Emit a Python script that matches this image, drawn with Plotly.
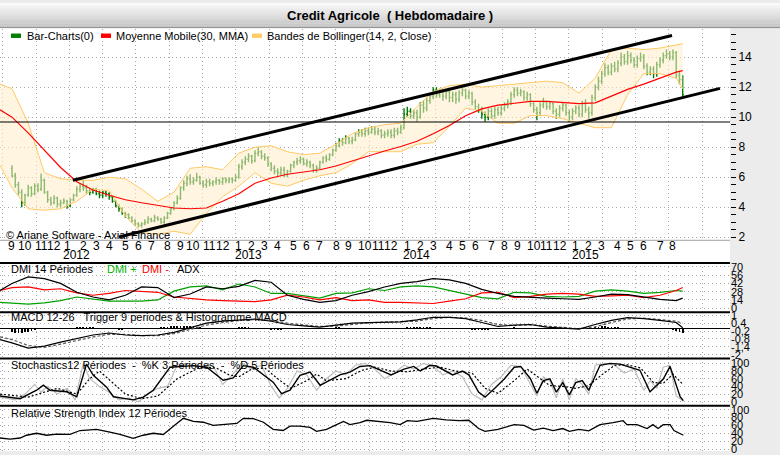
import plotly.graph_objects as go
import pandas as pd

W, H, PW = 780, 455, 730

# ---------------- weekly bars (Credit Agricole, weekly) ----------------
bar_start = "2011-09-05"
n_bars = 208
bar_dates = pd.date_range(bar_start, periods=n_bars, freq="7D")
bar_weeks = list(range(n_bars))

opens = [6.6, 6.1, 5.5, 5.0, 4.3, 4.8, 5.3, 4.9, 5.4, 5.2,
         5.8, 5.0, 4.5, 4.3, 4.6, 4.2, 4.3, 4.4, 4.1, 4.5,
         4.8, 5.2, 5.4, 5.3, 5.1, 5.0, 5.2, 4.9, 4.8, 5.0,
         4.9, 4.7, 4.4, 4.1, 3.9, 3.6, 3.5, 3.3, 3.1, 2.9,
         2.8, 2.9, 3.0, 3.2, 3.1, 3.3, 3.2, 3.0, 3.3, 3.6,
         3.9, 4.3, 4.6, 5.3, 5.6, 5.9, 5.7, 5.8, 6.0, 5.6,
         5.5, 5.7, 5.6, 5.7, 5.8, 5.7, 5.9, 5.8, 5.9, 5.8,
         6.0, 6.7, 7.0, 7.2, 7.4, 7.1, 7.6, 7.7, 7.4, 7.3,
         6.9, 6.6, 6.4, 6.3, 6.5, 6.2, 6.4, 6.8, 7.0, 7.1,
         7.2, 6.9, 7.0, 6.8, 6.5, 6.6, 7.0, 7.3, 7.2, 7.5,
         7.8, 8.1, 8.4, 8.3, 8.6, 8.4, 8.5, 8.9, 9.0, 8.9,
         9.1, 9.0, 9.2, 9.0, 9.1, 8.8, 8.9, 9.0, 8.8, 9.1,
         9.0, 9.3, 10.2, 10.4, 10.1, 10.3, 10.0, 10.8, 10.6, 11.1,
         11.4, 11.8, 11.5, 11.7, 11.4, 11.7, 11.3, 11.5, 11.2, 11.6,
         11.8, 11.4, 11.6, 11.0, 10.7, 10.5, 10.2, 10.0, 10.4, 10.1,
         10.5, 10.3, 10.6, 10.8, 11.0, 11.5, 11.8, 11.6, 11.7, 11.3,
         11.5, 10.9, 10.5, 10.3, 10.8, 11.0, 10.7, 10.9, 10.4, 10.2,
         10.6, 10.8, 10.3, 10.0, 10.4, 10.6, 10.2, 10.9, 10.5, 10.3,
         11.3, 12.0, 12.4, 12.9, 13.3, 13.0, 13.4, 13.2, 13.6, 14.0,
         13.7, 14.1, 13.8, 13.5, 13.9, 14.0, 13.4, 13.0, 13.2, 12.9,
         13.5, 13.8, 14.1, 14.2, 14.0, 14.3, 12.8, 12.5]
highs = [6.8, 6.3, 5.7, 5.2, 4.9, 5.5, 5.4, 5.6, 5.6, 6.25,
         5.9, 5.1, 4.7, 4.8, 4.7, 4.5, 4.6, 4.5, 4.6, 4.9,
         5.4, 5.6, 5.8, 5.5, 5.3, 5.3, 5.3, 5.1, 5.1, 5.1,
         5.0, 4.8, 4.5, 4.2, 4.0, 3.7, 3.6, 3.4, 3.2, 3.0,
         3.0, 3.2, 3.4, 3.3, 3.5, 3.4, 3.3, 3.4, 3.7, 4.0,
         4.4, 4.8, 5.4, 5.8, 6.1, 6.2, 6.0, 6.3, 6.1, 5.8,
         5.9, 5.9, 5.8, 6.0, 5.9, 6.0, 6.0, 6.0, 6.0, 6.2,
         6.9, 7.2, 7.4, 7.6, 7.5, 7.8, 8.0, 7.8, 7.6, 7.4,
         7.0, 6.8, 6.6, 6.7, 6.7, 6.5, 6.9, 7.1, 7.3, 7.4,
         7.3, 7.2, 7.1, 6.9, 6.8, 7.1, 7.4, 7.5, 7.6, 7.9,
         8.3, 8.6, 8.6, 8.8, 8.7, 8.7, 9.0, 9.2, 9.2, 9.3,
         9.3, 9.4, 9.4, 9.3, 9.2, 9.1, 9.2, 9.2, 9.3, 9.3,
         9.5, 10.6, 10.7, 10.6, 10.5, 10.5, 11.0, 11.1, 11.3, 11.6,
         12.0, 12.0, 11.9, 11.9, 11.9, 11.9, 11.7, 11.7, 11.8, 12.0,
         11.9, 11.8, 11.7, 11.2, 10.9, 10.7, 10.4, 10.6, 10.6, 10.7,
         10.7, 10.8, 11.0, 11.2, 11.7, 12.0, 12.0, 11.9, 11.8, 11.7,
         11.6, 11.0, 10.7, 11.0, 11.3, 11.1, 11.1, 11.0, 10.6, 10.8,
         11.0, 10.9, 10.5, 10.6, 10.8, 10.8, 11.1, 11.2, 10.7, 11.5,
         12.2, 12.7, 13.1, 13.6, 13.5, 13.6, 13.7, 13.8, 14.3, 14.2,
         14.4, 14.3, 14.0, 14.1, 14.3, 14.2, 13.6, 13.4, 13.4, 13.7,
         14.0, 14.3, 14.5, 14.4, 14.5, 14.4, 13.1, 12.8]
lows = [6.0, 5.3, 4.8, 4.0, 4.1, 4.7, 4.7, 4.8, 5.0, 5.1,
        4.9, 4.3, 4.1, 4.2, 4.0, 4.0, 4.2, 3.9, 4.0, 4.4,
        4.7, 5.0, 5.1, 4.9, 4.8, 4.9, 4.8, 4.6, 4.6, 4.7,
        4.5, 4.3, 4.0, 3.7, 3.5, 3.3, 3.2, 3.0, 2.8, 2.65,
        2.65, 2.8, 2.9, 3.0, 3.0, 3.1, 2.9, 2.9, 3.2, 3.5,
        3.8, 4.2, 4.5, 5.1, 5.4, 5.5, 5.5, 5.7, 5.5, 5.3,
        5.3, 5.4, 5.4, 5.5, 5.5, 5.5, 5.6, 5.6, 5.6, 5.7,
        5.9, 6.5, 6.8, 7.0, 6.9, 7.0, 7.4, 7.2, 7.1, 6.7,
        6.4, 6.2, 6.0, 6.1, 6.0, 6.0, 6.3, 6.6, 6.8, 6.9,
        6.8, 6.7, 6.6, 6.3, 6.3, 6.5, 6.9, 7.0, 7.1, 7.4,
        7.7, 8.0, 8.1, 8.2, 8.2, 8.2, 8.4, 8.7, 8.7, 8.7,
        8.8, 8.9, 8.8, 8.8, 8.6, 8.6, 8.7, 8.6, 8.6, 8.8,
        8.9, 9.2, 10.0, 9.9, 9.9, 9.7, 9.9, 10.3, 10.4, 10.9,
        11.2, 11.3, 11.3, 11.1, 11.2, 11.0, 11.0, 10.9, 11.0, 11.4,
        11.2, 11.2, 10.8, 10.5, 10.3, 9.9, 9.7, 9.8, 9.9, 9.9,
        10.1, 10.1, 10.4, 10.6, 10.8, 11.3, 11.4, 11.4, 11.1, 11.1,
        10.7, 10.3, 9.8, 10.1, 10.6, 10.5, 10.5, 10.2, 9.9, 10.0,
        10.4, 10.1, 9.7, 9.8, 10.2, 10.0, 10.0, 10.3, 9.9, 10.1,
        11.1, 11.8, 12.2, 12.7, 12.8, 12.8, 13.0, 13.0, 13.4, 13.5,
        13.5, 13.6, 13.3, 13.3, 13.7, 13.2, 12.8, 12.8, 12.6, 12.7,
        13.3, 13.6, 13.9, 13.8, 13.8, 12.6, 12.2, 11.4]
closes = [6.1, 5.5, 5.0, 4.3, 4.8, 5.3, 4.9, 5.4, 5.2, 5.8,
          5.0, 4.5, 4.3, 4.6, 4.2, 4.3, 4.4, 4.1, 4.5, 4.8,
          5.2, 5.4, 5.3, 5.1, 5.0, 5.2, 4.9, 4.8, 5.0, 4.9,
          4.7, 4.4, 4.1, 3.9, 3.6, 3.5, 3.3, 3.1, 2.9, 2.8,
          2.9, 3.0, 3.2, 3.1, 3.3, 3.2, 3.0, 3.3, 3.6, 3.9,
          4.3, 4.6, 5.3, 5.6, 5.9, 5.7, 5.8, 6.0, 5.6, 5.5,
          5.7, 5.6, 5.7, 5.8, 5.7, 5.9, 5.8, 5.9, 5.8, 6.0,
          6.7, 7.0, 7.2, 7.4, 7.1, 7.6, 7.7, 7.4, 7.3, 6.9,
          6.6, 6.4, 6.3, 6.5, 6.2, 6.4, 6.8, 7.0, 7.1, 7.2,
          6.9, 7.0, 6.8, 6.5, 6.6, 7.0, 7.3, 7.2, 7.5, 7.8,
          8.1, 8.4, 8.3, 8.6, 8.4, 8.5, 8.9, 9.0, 8.9, 9.1,
          9.0, 9.2, 9.0, 9.1, 8.8, 8.9, 9.0, 8.8, 9.1, 9.0,
          9.3, 10.2, 10.4, 10.1, 10.3, 10.0, 10.8, 10.6, 11.1, 11.4,
          11.8, 11.5, 11.7, 11.4, 11.7, 11.3, 11.5, 11.2, 11.6, 11.8,
          11.4, 11.6, 11.0, 10.7, 10.5, 10.2, 10.0, 10.4, 10.1, 10.5,
          10.3, 10.6, 10.8, 11.0, 11.5, 11.8, 11.6, 11.7, 11.3, 11.5,
          10.9, 10.5, 10.3, 10.8, 11.0, 10.7, 10.9, 10.4, 10.2, 10.6,
          10.8, 10.3, 10.0, 10.4, 10.6, 10.2, 10.9, 10.5, 10.3, 11.3,
          12.0, 12.4, 12.9, 13.3, 13.0, 13.4, 13.2, 13.6, 14.0, 13.7,
          14.1, 13.8, 13.5, 13.9, 14.0, 13.4, 13.0, 13.2, 12.9, 13.5,
          13.8, 14.1, 14.2, 14.0, 14.3, 12.8, 12.5, 11.5]

# ---------------- indicators sampled every 5 weeks ----------------
ind_weeks = [-3.7, 0, 5, 10, 15, 20, 25, 30, 35, 40, 45, 50, 55, 60, 65, 70, 75, 80, 85, 90,
             95, 100, 105, 110, 115, 120, 125, 130, 135, 140, 145, 150, 155, 160, 165, 170,
             175, 180, 185, 190, 195, 200, 205, 207]
ma30 = [10.5, 10.0, 8.95, 7.8, 6.65, 5.7, 5.15, 4.8, 4.5, 4.3, 4.1, 3.95, 3.9, 3.95, 4.4, 4.9,
        5.6, 5.95, 6.2, 6.35, 6.5, 6.75, 7.1, 7.45, 7.75, 8.05, 8.4, 8.9, 9.45, 10.1, 10.55,
        10.8, 10.9, 11.05, 11.05, 11.0, 10.9, 10.95, 11.4, 11.85, 12.2, 12.6, 13.0, 13.1]
bb_upper = [12.2, 11.9, 9.6, 6.3, 5.9, 5.8, 5.8, 6.0, 5.9, 5.2, 4.4, 5.0, 6.6, 6.7, 6.5, 7.6,
            8.0, 8.1, 7.7, 7.5, 7.6, 8.2, 8.9, 9.3, 9.5, 9.6, 10.7, 11.7, 12.1, 12.2, 12.0,
            12.1, 12.2, 12.35, 12.4, 12.3, 11.6, 12.6, 14.5, 14.6, 14.5, 14.6, 14.8, 14.9]
bb_lower = [6.8, 5.3, 3.9, 3.8, 3.9, 4.4, 5.2, 5.1, 3.4, 2.3, 2.2, 2.4, 2.2, 3.6, 4.7, 5.4,
            6.3, 5.6, 5.4, 5.8, 6.1, 6.3, 6.9, 7.7, 7.7, 7.7, 8.2, 8.3, 9.4, 10.6, 10.4,
            9.6, 9.6, 10.1, 10.1, 9.9, 9.6, 9.3, 9.3, 11.5, 12.9, 12.9, 12.6, 11.9]
adx = [30, 42, 53, 50, 42, 27, 19, 14, 22, 36, 35, 18, 24, 36, 33, 37, 47, 44, 22, 15,
       10, 13, 22, 28, 36, 42, 45, 50, 48, 42, 32, 25, 20, 18, 17, 16, 15, 19, 24, 23,
       19, 15, 13, 17]
dmi_plus = [10, 9, 7, 9, 13, 19, 16, 12, 12, 12, 14, 29, 36, 38, 31, 41, 36, 25, 25, 21,
            17, 25, 26, 33, 30, 36, 38, 36, 30, 25, 18, 16, 27, 26, 20, 19, 20, 29, 31, 29,
            25, 27, 30, 29]
dmi_minus = [30, 35, 36, 31, 33, 26, 22, 25, 30, 29, 27, 19, 16, 14, 13, 12, 11, 14, 22, 19,
             14, 18, 13, 14, 10, 10, 9, 8, 12, 16, 26, 27, 18, 20, 24, 25, 24, 20, 21, 22,
             18, 22, 30, 35]
macd = [-0.85, -1.1, -1.5, -1.35, -1.05, -0.75, -0.5, -0.35, -0.5, -0.55, -0.5, -0.3, 0.05,
        0.4, 0.55, 0.65, 0.72, 0.55, 0.3, 0.2, 0.1, 0.25, 0.4, 0.45, 0.5, 0.5, 0.65, 0.85,
        0.85, 0.75, 0.45, 0.15, 0.25, 0.3, 0.1, 0.0, -0.05, 0.3, 0.62, 0.82, 0.75, 0.62,
        0.45, 0.05]
trigger = [-0.65, -0.85, -1.3, -1.45, -1.2, -0.9, -0.65, -0.45, -0.45, -0.55, -0.55, -0.4,
           -0.1, 0.25, 0.45, 0.6, 0.68, 0.62, 0.4, 0.25, 0.15, 0.18, 0.32, 0.42, 0.48, 0.5,
           0.55, 0.75, 0.85, 0.8, 0.6, 0.3, 0.22, 0.28, 0.18, 0.05, -0.02, 0.12, 0.45, 0.72,
           0.78, 0.68, 0.55, 0.4]
macd_hist = [-0.3, -0.32, -0.35, -0.35, -0.3, -0.25, -0.2, -0.15, -0.05, 0.0,
             -0.02, -0.05, -0.08, -0.06, -0.03, 0.0, 0.02, 0.03, 0.05, 0.06,
             0.08, 0.1, 0.12, 0.12, 0.1, 0.08, 0.06, 0.04, 0.0, -0.02,
             -0.04, -0.06, -0.08, -0.1, -0.1, -0.08, -0.06, -0.04, -0.02, 0.0,
             0.02, 0.03, 0.05, 0.05, 0.06, 0.07, 0.08, 0.1, 0.12, 0.15,
             0.18, 0.2, 0.22, 0.22, 0.2, 0.18, 0.15, 0.12, 0.08, 0.05,
             0.03, 0.02, 0.0, -0.02, -0.02, 0.0, 0.02, 0.03, 0.05, 0.06,
             0.08, 0.1, 0.1, 0.08, 0.06, 0.04, 0.02, -0.02, -0.05, -0.08,
             -0.1, -0.12, -0.12, -0.1, -0.08, -0.06, -0.03, 0.0, 0.03, 0.05,
             0.04, 0.02, 0.0, -0.02, -0.03, -0.02, 0.0, 0.02, 0.04, 0.06,
             0.08, 0.08, 0.07, 0.06, 0.05, 0.04, 0.04, 0.03, 0.02, 0.02,
             0.01, 0.0, -0.01, -0.02, -0.03, -0.04, -0.04, -0.03, -0.02, -0.01,
             0.02, 0.06, 0.1, 0.12, 0.12, 0.1, 0.1, 0.1, 0.1, 0.08,
             0.06, 0.04, 0.02, 0.0, -0.02, -0.03, -0.04, -0.05, -0.05, -0.05,
             -0.06, -0.08, -0.1, -0.12, -0.14, -0.14, -0.12, -0.1, -0.08, -0.05,
             -0.03, 0.0, 0.03, 0.05, 0.07, 0.08, 0.07, 0.05, 0.02, 0.0,
             -0.03, -0.06, -0.08, -0.08, -0.06, -0.04, -0.04, -0.05, -0.06, -0.05,
             -0.04, -0.04, -0.05, -0.04, -0.02, -0.02, 0.0, 0.0, 0.02, 0.06,
             0.1, 0.14, 0.16, 0.16, 0.14, 0.12, 0.1, 0.08, 0.06, 0.04,
             0.02, 0.0, -0.02, -0.03, -0.05, -0.06, -0.07, -0.08, -0.06, -0.05,
             -0.05, -0.06, -0.06, -0.08, -0.1, -0.2, -0.3, -0.35]

# stochastics (turning points)
stk_weeks = [-3.7, 2.5, 7.6, 9.7, 11.7, 16.9, 20, 23, 25.1, 29.2, 31.3, 37.4, 40.5, 43.6, 48.8,
             56, 60.1, 65.2, 68.3, 71.4, 74.5, 80.6, 83.2, 85.8, 88.9, 92, 95.1, 101.2, 104.3,
             107.4, 110.5, 113.6, 117, 121, 124, 126, 129, 131, 134, 136, 139, 141, 144, 146,
             149, 152, 155, 157, 160, 162, 164, 166, 168, 170, 172, 174, 176, 178, 181.5,
             184.6, 187.7, 190.7, 193.8, 196.9, 199, 201, 203.1, 204.6, 206.2, 207.2]
stk_vals = [15, 8, 30, 43, 30, 26, 13, 98, 69, 38, 13, 5, 12, 30, 90, 94, 90, 56, 62, 94,
            90, 51, 21, 30, 69, 77, 43, 70, 77, 92, 94, 82, 70, 85, 92, 80, 95, 93, 80, 70,
            80, 70, 25, 12, 35, 60, 90, 92, 60, 22, 55, 60, 25, 50, 18, 50, 55, 30, 95, 100,
            98, 90, 82, 26, 44, 59, 92, 51, 13, 3]
std_weeks = [-3.7, 5, 10, 14, 20, 24, 27, 31, 35, 40, 45, 51, 58, 63, 67, 70, 74, 78, 82, 86,
             91, 94, 97, 103, 108, 112, 117, 122, 127, 132, 137, 142, 146, 150, 155, 159, 163,
             166, 170, 174, 178, 182, 186, 190, 194, 198, 201, 204, 207.2]
std_vals = [20, 12, 25, 35, 20, 60, 80, 50, 20, 8, 15, 60, 90, 88, 70, 65, 85, 88, 60, 35,
            55, 72, 55, 60, 82, 90, 80, 78, 85, 90, 80, 75, 35, 22, 55, 85, 60, 42, 40, 35,
            42, 70, 95, 96, 88, 50, 48, 72, 44]
str_weeks = [-3.7, 1, 4, 7, 9, 11, 14, 17, 19.5, 22, 24, 27, 30, 33, 36, 39, 42, 45, 48, 51,
             55, 58, 62, 65, 68, 71, 74, 77, 80, 82.5, 85, 88, 91, 94, 97, 100, 103, 106, 109,
             112, 115, 118, 121, 124, 127, 130, 133, 136, 139, 142, 145, 148, 151, 154, 157,
             160, 162, 164, 166, 168, 170, 172, 174, 176, 178, 180, 183, 186, 189, 192, 195,
             197, 199, 201, 203, 205, 207.2]
str_vals = [12, 5, 20, 45, 25, 40, 20, 35, 5, 100, 60, 40, 25, 5, 10, 0, 20, 35, 40, 95,
            100, 85, 95, 45, 70, 100, 85, 95, 40, 10, 35, 80, 70, 30, 60, 80, 70, 95, 100,
            85, 60, 75, 95, 85, 100, 92, 70, 80, 65, 20, 5, 45, 65, 95, 92, 45, 15, 65, 55,
            10, 60, 5, 60, 45, 20, 95, 100, 95, 75, 85, 30, 55, 35, 90, 95, 15, 2]

rsi_weeks = [-3.7, -0.6, 2.5, 4.5, 7.6, 10.7, 13.8, 17.9, 21, 26.1, 30.2, 33.3, 37.4, 40.5,
             43.6, 46.7, 49.8, 52.9, 56, 59, 62.1, 66.3, 69.4, 71.4, 74.5, 77.6, 80.6, 83.7,
             85.8, 88.9, 92, 94, 97.1, 99.2, 102.3, 104.3, 107.4, 109.5, 113.6, 116.7, 119.8,
             122, 125, 130, 134, 138, 141, 144, 146, 150, 155, 158, 161, 164, 167, 170, 172,
             175, 178, 181.5, 185.5, 188.6, 189.8, 192.9, 196, 197.8, 199.4, 201, 203.1,
             204.3, 207.2]
rsi_vals = [28, 25, 28, 35, 40, 35, 38, 37, 47, 50, 43, 37, 27, 35, 40, 37, 58, 78, 70, 68,
            60, 63, 65, 78, 77, 68, 50, 47, 58, 58, 55, 45, 50, 58, 70, 62, 67, 73, 70, 67,
            62, 72, 70, 78, 74, 72, 73, 52, 45, 50, 62, 60, 48, 53, 47, 52, 45, 50, 46, 62,
            67, 72, 62, 62, 52, 62, 52, 62, 62, 47, 35]

# drawn trend lines (week, price)
upper_trend_w = [18.8, 203.7]
upper_trend_v = [5.80, 15.44]
lower_trend_w = [33.0, 218.5]
lower_trend_v = [2.02, 11.92]
support_level = 9.68

X_RANGE = [-3.7, 221.6]


def PX(p):
    return p / PW


def PY(p):
    return 1 - p / H


fig = go.Figure()
skip = dict(hoverinfo="skip", showlegend=False)

# main panel
fig.add_trace(go.Scatter(x=ind_weeks, y=bb_lower, mode="lines",
                         line=dict(color="#ffc864", width=1), xaxis="x", yaxis="y", **skip))
fig.add_trace(go.Scatter(x=ind_weeks, y=bb_upper, mode="lines", fill="tonexty",
                         fillcolor="rgba(255,236,200,0.55)",
                         line=dict(color="#ffc864", width=1), xaxis="x", yaxis="y", **skip))
fig.add_trace(go.Ohlc(x=bar_weeks, open=opens, high=highs, low=lows, close=closes,
                      increasing=dict(line=dict(color="#007a00", width=1.4)),
                      decreasing=dict(line=dict(color="#007a00", width=1.4)),
                      tickwidth=0.35, xaxis="x", yaxis="y", hoverinfo="skip", showlegend=False))
fig.add_trace(go.Scatter(x=ind_weeks, y=ma30, mode="lines",
                         line=dict(color="#ff0000", width=1.2), xaxis="x", yaxis="y", **skip))
fig.add_trace(go.Scatter(x=X_RANGE, y=[support_level, support_level], mode="lines",
                         line=dict(color="black", width=1.2), xaxis="x", yaxis="y", **skip))
fig.add_trace(go.Scatter(x=upper_trend_w, y=upper_trend_v, mode="lines",
                         line=dict(color="black", width=3), xaxis="x", yaxis="y", **skip))
fig.add_trace(go.Scatter(x=lower_trend_w, y=lower_trend_v, mode="lines",
                         line=dict(color="black", width=3), xaxis="x", yaxis="y", **skip))

# DMI
fig.add_trace(go.Scatter(x=ind_weeks, y=dmi_plus, mode="lines",
                         line=dict(color="#00a000", width=1.2), xaxis="x2", yaxis="y2", **skip))
fig.add_trace(go.Scatter(x=ind_weeks, y=dmi_minus, mode="lines",
                         line=dict(color="#ff0000", width=1.2), xaxis="x2", yaxis="y2", **skip))
fig.add_trace(go.Scatter(x=ind_weeks, y=adx, mode="lines",
                         line=dict(color="black", width=1.2), xaxis="x2", yaxis="y2", **skip))

# MACD
fig.add_trace(go.Bar(x=bar_weeks, y=macd_hist, marker=dict(color="black", line=dict(width=0)),
                     width=0.55, xaxis="x3", yaxis="y3", **skip))
fig.add_trace(go.Scatter(x=ind_weeks, y=trigger, mode="lines",
                         line=dict(color="#555555", width=1.2, dash="3px,2px"),
                         xaxis="x3", yaxis="y3", **skip))
fig.add_trace(go.Scatter(x=ind_weeks, y=macd, mode="lines",
                         line=dict(color="black", width=1.2), xaxis="x3", yaxis="y3", **skip))

# Stochastics
fig.add_trace(go.Scatter(x=str_weeks, y=str_vals, mode="lines",
                         line=dict(color="#bdbdbd", width=1.2), xaxis="x4", yaxis="y4", **skip))
fig.add_trace(go.Scatter(x=std_weeks, y=std_vals, mode="lines",
                         line=dict(color="black", width=1.2, dash="2px,2px"),
                         xaxis="x4", yaxis="y4", **skip))
fig.add_trace(go.Scatter(x=stk_weeks, y=stk_vals, mode="lines",
                         line=dict(color="black", width=1.4), xaxis="x4", yaxis="y4", **skip))

# RSI
fig.add_trace(go.Scatter(x=rsi_weeks, y=rsi_vals, mode="lines",
                         line=dict(color="black", width=1.3), xaxis="x5", yaxis="y5", **skip))

GRID = "#a8a8a8"
GDASH = "1px,3px"


def xax(anchor):
    return dict(range=X_RANGE, anchor=anchor, domain=[0, 1], showgrid=True, gridcolor=GRID,
                griddash=GDASH, gridwidth=1, tickmode="linear", tick0=-2.87, dtick=10.28,
                showticklabels=False, ticks="", zeroline=False, showline=False, fixedrange=True)


def yax(anchor, dom, rng, **kw):
    d = dict(anchor=anchor, domain=dom, range=rng, side="right", showgrid=True, gridcolor=GRID,
             griddash=GDASH, gridwidth=1, zeroline=False, showline=False, fixedrange=True,
             tickfont=dict(size=11, color="black"), ticks="")
    d.update(kw)
    return d


layout = dict(
    width=W, height=H, autosize=False,
    margin=dict(l=0, r=W - PW, t=0, b=0),
    paper_bgcolor="#ececec", plot_bgcolor="white",
    font=dict(family="Liberation Sans, Arial, sans-serif", color="black"),
    showlegend=False, bargap=0,
    xaxis=dict(xax("y"), rangeslider=dict(visible=False)),
    xaxis2=xax("y2"), xaxis3=xax("y3"), xaxis4=xax("y4"), xaxis5=xax("y5"),
    yaxis=yax("x", [PY(241), PY(26)], [1.80, 15.9], tickmode="linear", tick0=0, dtick=2,
              ticks="outside", ticklen=5, tickcolor="black", tickwidth=1,
              tickfont=dict(size=12, color="black"),
              minor=dict(dtick=0.5, tick0=0, ticks="outside", ticklen=5, tickcolor="black",
                         tickwidth=1, showgrid=False)),
    yaxis2=yax("x2", [PY(314), PY(264)], [-6.7, 76.7], tickmode="linear", tick0=0, dtick=14),
    yaxis3=yax("x3", [PY(361), PY(314)], [-2.29, 1.24], tickmode="array",
               tickvals=[1, 0.4, -0.2, -0.8, -1.4, -2],
               ticktext=["1", "0,4", "-0,2", "-0,8", "-1,4", "-2"],
               zeroline=True, zerolinecolor="black", zerolinewidth=1.5),
    yaxis4=yax("x4", [PY(409), PY(361)], [-10.3, 112.8], tickmode="linear", tick0=0, dtick=20),
    yaxis5=yax("x5", [0, PY(409)], [-5, 110], tickmode="linear", tick0=0, dtick=20),
)

shapes = []
# white chart background (below everything)
shapes.append(dict(type="rect", xref="paper", yref="paper", x0=0, x1=1, y0=0, y1=PY(25),
                   fillcolor="white", line=dict(width=0), layer="below"))
# title bar gradient
n_strips = 13
for k in range(n_strips):
    g = int(250 - (250 - 196) * k / (n_strips - 1))
    shapes.append(dict(type="rect", xref="paper", yref="paper", x0=0, x1=W / PW,
                       y0=PY(25 * (k + 1) / n_strips), y1=PY(25 * k / n_strips),
                       fillcolor=f"rgb({g},{g},{g})", line=dict(width=0), layer="below"))
shapes.append(dict(type="line", xref="paper", yref="paper", x0=0, x1=W / PW, y0=PY(25), y1=PY(25),
                   line=dict(color="#8c8c8c", width=1)))
# legend colour boxes
for x0, x1, col in [(11, 21, "#008000"), (101, 111, "#ff0000"), (252, 262, "#ffcc66")]:
    shapes.append(dict(type="rect", xref="paper", yref="paper", x0=PX(x0), x1=PX(x1),
                       y0=PY(35.5), y1=PY(31), fillcolor=col, line=dict(width=0)))
# panel separators
shapes.append(dict(type="line", xref="paper", yref="paper", x0=0, x1=1, y0=PY(241), y1=PY(241),
                   line=dict(color="#a0a0a0", width=1)))
for yy in [264, 314, 361, 409]:
    shapes.append(dict(type="line", xref="paper", yref="paper", x0=0, x1=1, y0=PY(yy), y1=PY(yy),
                       line=dict(color="black", width=2)))
layout["shapes"] = shapes

ann = []


def text(x, y, t, size=11, color="black", anchor="left", **kw):
    d = dict(xref="paper", yref="paper", x=PX(x), y=PY(y), text=t, showarrow=False,
             xanchor=anchor, yanchor="middle", font=dict(size=size, color=color))
    d.update(kw)
    ann.append(d)


text(390, 13, "<b>Credit Agricole &nbsp;( Hebdomadaire )</b>", size=13, anchor="center")
text(25, 33.5, "Bar-Charts(0)")
text(114, 33.5, "Moyenne Mobile(30, MMA)")
text(265, 33.5, "Bandes de Bollinger(14, 2, Close)")
text(4, 235.5, "© Ariane Software - Axial Finance")
text(9, 270, "DMI 14 Périodes")
text(105, 270, "DMI +", color="#00b000")
text(140, 270, "DMI -", color="#ff0000")
text(175, 270, "ADX")
text(9, 319, "MACD 12-26 &nbsp; Trigger 9 periodes &amp; Histogramme MACD")
text(9, 367.5, "Stochastics12 Périodes &nbsp;- &nbsp;%K 3 Périodes &nbsp;- &nbsp;%D 5 Périodes")
text(9, 416, "Relative Strength Index 12 Périodes")

# month / year labels on the time axis
prev_month = None
for i, d in enumerate(bar_dates):
    if d.month != prev_month:
        ann.append(dict(xref="x", yref="paper", x=i, y=PY(246.5), text=str(d.month),
                        showarrow=False, xanchor="center", yanchor="middle",
                        font=dict(size=12, color="black")))
        if d.month == 1:
            ann.append(dict(xref="x", yref="paper", x=i, y=PY(256), text=str(d.year),
                            showarrow=False, xanchor="left", yanchor="middle", xshift=-6,
                            font=dict(size=12, color="black")))
        prev_month = d.month
layout["annotations"] = ann

fig.update_layout(**layout)
fig.write_html("out.html", config={"displayModeBar": False, "staticPlot": True},
               post_script="document.body.style.margin='0px';"
                           "document.body.style.overflow='hidden';")
